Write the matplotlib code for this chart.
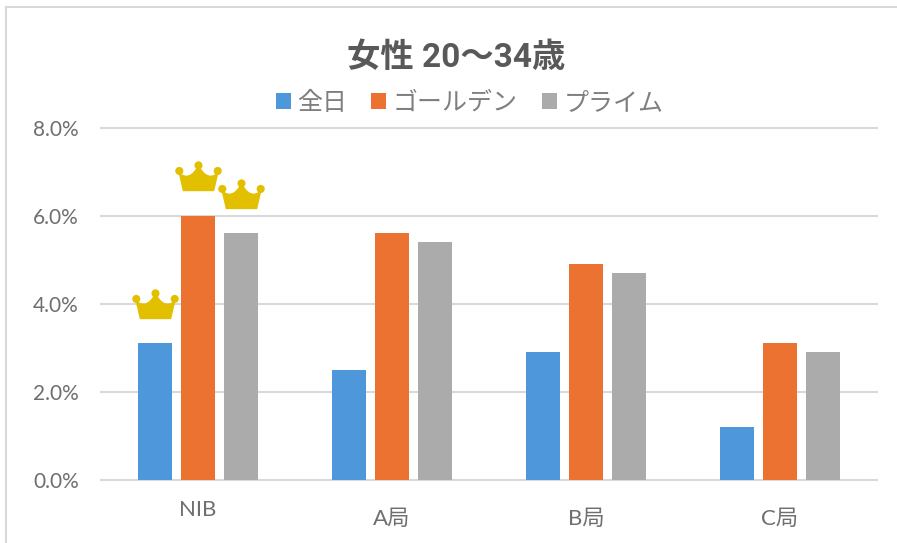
import numpy as np
from matplotlib import pyplot as plt
from matplotlib.lines import Line2D
from matplotlib.path import Path
from matplotlib.transforms import Affine2D, ScaledTranslation

plt.rcParams['font.family'] = ['Lato', 'Noto Sans CJK JP', 'DejaVu Sans']

categories = ['NIB', 'A局', 'B局', 'C局']
series_names = ['全日', 'ゴールデン', 'プライム']
all_day = [3.1, 2.5, 2.9, 1.2]
golden = [6.0, 5.6, 4.9, 3.1]
prime = [5.6, 5.4, 4.7, 2.9]
y_ticks = [0, 2, 4, 6, 8]
# series index of each crowned bar in the NIB group
crowned_series = [0, 1, 2]

colours = ['#4f97db', '#eb7231', '#ababab']
text_grey = '#6f6f6f'
line_grey = '#d9d9d9'


def crown_marker() -> Path:
    """Crown shape, in pixels around its own centre, y pointing up."""
    body = Path(
        [(-15.5, -14.5), (15.5, -14.5), (20, 5), (9, -6), (0, 12), (-9, -6), (-20, 5), (-15.5, -14.5)],
        [Path.MOVETO, Path.LINETO, Path.LINETO, Path.CURVE3, Path.CURVE3, Path.CURVE3, Path.CURVE3, Path.CLOSEPOLY],
    )
    dots = [
        Path.unit_circle().transformed(Affine2D().scale(r).translate(x, y))
        for x, y, r in [(-19, 5.5, 4), (19, 5.5, 4), (0, 11, 4)]
    ]
    return Path.make_compound_path(body, *dots)


fig = plt.figure(figsize=(8.97, 5.43), dpi=100)
ax = fig.add_axes([101 / 897, 1 - 479.5 / 543, 776 / 897, 351.5 / 543])

x = np.arange(len(categories))
bar_width = 0.175
step = 0.224
all_series = [all_day, golden, prime]
for i, values in enumerate(all_series):
    ax.bar(x + (i - 1) * step, values, bar_width, color=colours[i], label=series_names[i], zorder=3)

# crowns sit a fixed distance above their bars
for i in crowned_series:
    ax.plot(x[0] + (i - 1) * step, all_series[i][0] + 0.9, marker=crown_marker(), markersize=33.5,
            color='#e2c000', markeredgewidth=0, linestyle='none', zorder=4, clip_on=False)

ax.set_xlim(-0.5, len(categories) - 0.5)
ax.set_ylim(0, 8)
ax.set_yticks(y_ticks)
ax.set_yticklabels([f'{v:.1f}%' for v in y_ticks], fontsize=15, color=text_grey)
ax.set_xticks(x)
ax.set_xticklabels(categories, fontsize=16, color=text_grey)
ax.tick_params(length=0)
ax.tick_params(axis='x', pad=21)
ax.tick_params(axis='y', pad=16)
ax.grid(axis='y', color=line_grey, linewidth=1.5, zorder=0)
ax.set_axisbelow(True)
for line in ax.get_ygridlines():
    line.set_clip_on(False)
for side in ['top', 'right', 'left', 'bottom']:
    ax.spines[side].set_visible(False)

# NIB label sits a little higher than the others in the original
first_label = ax.get_xticklabels()[0]
first_label.set_transform(first_label.get_transform() + ScaledTranslation(0, 6 / 72, fig.dpi_scale_trans))

fig.text(456 / 897, 1 - 58 / 543, '女性 20～34歳', fontsize=24, fontweight='bold', color='#595959',
         ha='center', va='center', family=['Roboto', 'Noto Sans CJK JP'])

ax.legend(loc='center', bbox_to_anchor=(469.5 / 897, 1 - 103 / 543), bbox_transform=fig.transFigure, ncol=3,
          frameon=False, labelcolor='#7f7f7f', handlelength=0.6, handleheight=0.6,
          handletextpad=0.25, columnspacing=0.98, borderpad=0, borderaxespad=0,
          prop={'family': ['Noto Sans CJK JP'], 'size': 18})

# chart frame, only top and left are inside the crop
fig.add_artist(Line2D([6 / 897, 6 / 897], [0, 1 - 7 / 543], color=line_grey, linewidth=1.5))
fig.add_artist(Line2D([6 / 897, 1], [1 - 7 / 543, 1 - 7 / 543], color=line_grey, linewidth=1.5))

fig.savefig('out.png', dpi=100)
